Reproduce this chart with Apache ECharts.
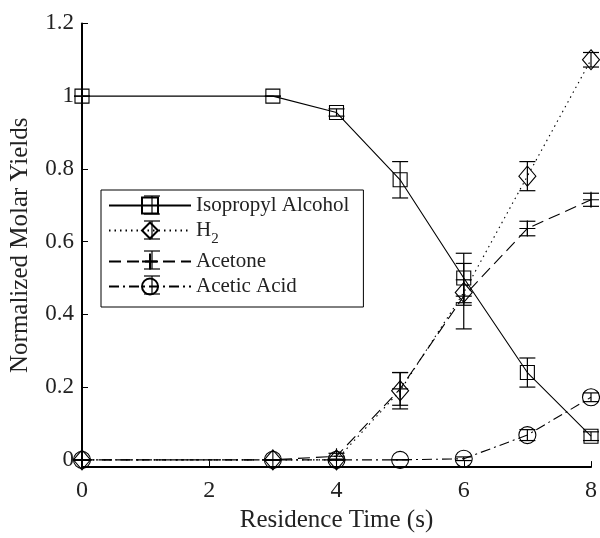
<!DOCTYPE html>
<html>
<head>
<meta charset="utf-8">
<script src="https://cdn.jsdelivr.net/npm/echarts@6/dist/echarts.min.js"></script>
<style>
  html, body { margin: 0; padding: 0; background: #fff; }
  #chart { width: 600px; height: 538px; }
</style>
</head>
<body>
<div id="chart"></div>
<script>
// Residence time (s) at each sampling point
const time = [0, 3, 4, 5, 6, 7, 8];

// Normalized molar yields and their uncertainties
const ipa        = [1.0, 1.0, 0.955, 0.77, 0.50, 0.24, 0.065];
const ipaErr     = [0, 0, 0.01, 0.05, 0.068, 0.04, 0.012];
const h2         = [0, 0, 0, 0.19, 0.46, 0.78, 1.10];
const h2Err      = [0, 0, 0, 0.05, 0.035, 0.04, 0.02];
const acetone    = [0, 0, 0.01, 0.195, 0.45, 0.636, 0.715];
const acetoneErr = [0, 0, 0.008, 0.045, 0.09, 0.02, 0.018];
const acetic     = [0, 0, 0, 0, 0.003, 0.068, 0.172];
const aceticErr  = [0, 0, 0, 0, 0.005, 0.015, 0.012];

const yTicks = [0, 0.2, 0.4, 0.6, 0.8, 1, 1.2];
const xTicks = [0, 2, 4, 6, 8];
const names = ['Isopropyl Alcohol', 'H2', 'Acetone', 'Acetic Acid'];

const FONT = '"Liberation Serif", "Times New Roman", serif';
const INK = '#000';
const TXT = '#222';

const pts = (ys) => time.map((t, i) => [t, ys[i]]);
const bars = (ys, es) => time.map((t, i) => [t, ys[i] - es[i], ys[i] + es[i]]);

const markStyle = { color: 'none', borderColor: INK, borderWidth: 1.1 };

function lineSeries(name, ys, symbol, size, type) {
  return {
    name, type: 'line', data: pts(ys), symbol, symbolSize: size,
    showAllSymbol: true, clip: false, z: 3,
    lineStyle: { color: INK, width: 1.1, type },
    itemStyle: markStyle,
    emphasis: { disabled: true },
    animation: false
  };
}

// vertical error bar with caps
function errSeries(ys, es) {
  return {
    type: 'custom', data: bars(ys, es), clip: false, z: 2, silent: true,
    encode: { x: 0, y: [1, 2] },
    renderItem(params, api) {
      const lo = api.coord([api.value(0), api.value(1)]);
      const hi = api.coord([api.value(0), api.value(2)]);
      const w = 8;
      const st = { stroke: INK, lineWidth: 1.2, fill: null };
      return {
        type: 'group',
        children: [
          { type: 'line', shape: { x1: lo[0], y1: lo[1], x2: hi[0], y2: hi[1] }, style: st },
          { type: 'line', shape: { x1: lo[0] - w, y1: lo[1], x2: lo[0] + w, y2: lo[1] }, style: st },
          { type: 'line', shape: { x1: hi[0] - w, y1: hi[1], x2: hi[0] + w, y2: hi[1] }, style: st }
        ]
      };
    },
    animation: false
  };
}

// error-bar glyph drawn over each legend sample
const legendRows = [205, 230, 260, 285];
const capStyle = { stroke: INK, lineWidth: 1.2 };
const legendCaps = [];
legendRows.forEach((cy) => {
  legendCaps.push(
    { type: 'line', z: 100, silent: true, shape: { x1: 152, y1: cy - 9, x2: 152, y2: cy + 9 }, style: capStyle },
    { type: 'line', z: 100, silent: true, shape: { x1: 144, y1: cy - 9, x2: 160, y2: cy - 9 }, style: capStyle },
    { type: 'line', z: 100, silent: true, shape: { x1: 144, y1: cy + 9, x2: 160, y2: cy + 9 }, style: capStyle }
  );
});

const chart = echarts.init(document.getElementById('chart'), null, { renderer: 'canvas' });

chart.setOption({
  backgroundColor: '#fff',
  animation: false,
  textStyle: { fontFamily: FONT },
  grid: { left: 82, right: 9, top: 23.4, bottom: 65.6, containLabel: false },
  xAxis: {
    type: 'value', min: 0, max: 8, interval: 2,
    name: 'Residence Time (s)', nameLocation: 'middle', nameGap: 40,
    nameTextStyle: { fontFamily: FONT, fontSize: 25, color: TXT },
    axisLine: { show: true, onZero: false, lineStyle: { color: INK, width: 2 } },
    axisTick: { show: true, inside: true, length: 6, customValues: xTicks, lineStyle: { color: INK, width: 1 } },
    axisLabel: { fontFamily: FONT, fontSize: 24, color: TXT, margin: 12, customValues: xTicks },
    splitLine: { show: false }
  },
  yAxis: {
    type: 'value', min: -0.02, max: 1.2,
    name: 'Normalized Molar Yields', nameLocation: 'middle', nameGap: 49,
    nameTextStyle: { fontFamily: FONT, fontSize: 25, color: TXT },
    axisLine: { show: true, onZero: false, lineStyle: { color: INK, width: 2 } },
    axisTick: { show: true, inside: true, length: 6, customValues: yTicks, lineStyle: { color: INK, width: 1 } },
    axisLabel: { fontFamily: FONT, fontSize: 23, color: TXT, margin: 8, customValues: yTicks },
    splitLine: { show: false }
  },
  legend: {
    orient: 'vertical', left: 101, top: 190, z: 4,
    padding: [5, 14, 10, 7], itemGap: 4,
    itemWidth: 82, itemHeight: 20,
    borderColor: INK, borderWidth: 1, backgroundColor: '#fff',
    data: names,
    formatter: (n) => n === 'H2' ? 'H{sub|2}' : n,
    textStyle: {
      fontFamily: FONT, fontSize: 21, color: TXT,
      rich: { sub: { fontFamily: FONT, fontSize: 15, color: TXT, padding: [18, 0, 0, 0] } }
    },
    selectedMode: false
  },
  graphic: { z: 50, elements: legendCaps },
  series: [
    errSeries(ipa, ipaErr),
    errSeries(h2, h2Err),
    errSeries(acetone, acetoneErr),
    errSeries(acetic, aceticErr),
    lineSeries(names[0], ipa, 'rect', 14, 'solid'),
    lineSeries(names[1], h2, 'diamond', [17, 20], [1.5, 4]),
    lineSeries(names[2], acetone, 'path://M0,5 L10,5 M5,0 L5,10', 16, [12, 6]),
    lineSeries(names[3], acetic, 'circle', 17, [10, 4, 2, 4])
  ]
});
</script>
</body>
</html>
